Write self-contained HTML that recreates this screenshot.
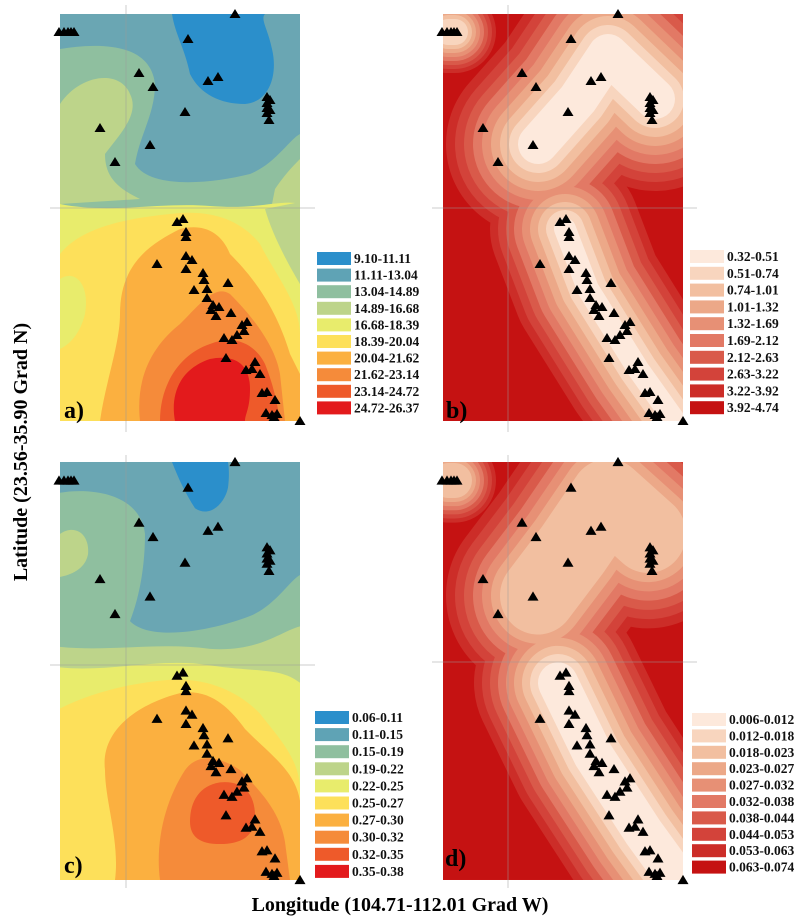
<!DOCTYPE html>
<html><head><meta charset="utf-8"><style>
html,body{margin:0;padding:0;background:#fff;}
svg{display:block;font-family:"Liberation Serif",serif;}
</style></head><body>
<svg id="fig" width="799" height="919" viewBox="0 0 799 919">
<defs>
<clipPath id="pc"><rect x="0" y="0" width="240" height="407"/></clipPath>
</defs>
<g id="pa" transform="translate(60,14)">
 <g clip-path="url(#pc)">
  <rect width="240" height="407" fill="#6aa6b3"/>
  <path fill="#8fbf9f" d="M0,35 C30,30 90,25 95,70 C95,100 80,120 75,150 C90,175 150,170 190,160 C215,150 230,125 240,120 L240,200 L0,200 Z"/>
  <path fill="#bdd48a" d="M0,90 C20,60 60,55 70,80 C80,100 60,120 45,140 C45,165 60,175 80,185 L0,190 Z"/>
  <path fill="#bdd48a" d="M215,175 C225,160 235,150 240,145 L240,200 L210,200Z"/>
  <path fill="#e8ec6c" d="M0,190 C50,200 100,188 150,192 C200,196 220,185 240,190 L240,407 L0,407 Z"/>
  <path fill="#bdd48a" d="M205,195 L240,188 L240,270 C228,250 212,220 205,195Z"/>
  <path fill="#fde05a" d="M0,240 C20,215 60,205 110,200 C150,195 180,205 200,230 C215,260 240,290 240,320 L240,407 L0,407 Z"/>
  <path fill="#e8ec6c" d="M0,265 C15,255 30,270 25,300 C20,320 10,330 0,335Z"/>
  <path fill="#fbb040" d="M60,300 C60,250 90,230 120,215 C140,210 160,215 170,240 C190,260 215,290 230,340 L240,360 L240,407 L40,407 C45,370 60,330 60,300Z"/>
  <path fill="#f58b3a" d="M80,407 C75,360 95,330 120,310 C140,290 155,270 170,280 C190,300 215,330 220,360 L225,407 Z"/>
  <path fill="#ee5a2a" d="M100,407 C100,370 120,340 150,330 C175,320 195,330 205,350 C215,375 218,395 220,407Z"/>
  <path fill="#e31a1c" d="M115,407 C110,380 120,355 150,345 C175,340 190,350 190,375 C190,395 185,400 185,407Z"/>
  <path fill="#2b8fcb" d="M112,0 C115,20 125,35 130,60 C140,80 160,90 185,90 C210,88 218,60 212,35 C208,15 200,5 205,0 Z"/>
 </g>
</g>
<g id="pcg" transform="translate(60,462) scale(1,1.027)">
 <g clip-path="url(#pc)">
  <rect width="240" height="407" fill="#6aa6b3"/>
  <path fill="#8fbf9f" d="M0,30 C30,25 80,30 85,70 C85,100 80,130 70,155 C90,175 150,165 190,150 C215,140 230,115 240,110 L240,200 L0,200 Z"/>
  <path fill="#bdd48a" d="M0,70 C15,60 30,70 28,90 C25,105 10,110 0,112Z"/>
  <path fill="#bdd48a" d="M0,180 C50,185 100,175 150,182 C200,185 220,165 240,160 L240,240 L0,240Z"/>
  <path fill="#e8ec6c" d="M0,200 C50,205 100,190 150,198 C200,205 220,200 240,215 L240,407 L0,407 Z"/>
  <path fill="#fde05a" d="M0,240 C30,225 70,215 110,212 C150,210 180,225 200,245 C220,270 240,290 240,320 L240,407 L0,407 Z"/>
  <path fill="#fbb040" d="M45,300 C40,260 80,235 120,225 C150,220 170,240 185,260 C210,285 235,300 240,330 L240,407 L55,407 C60,370 45,330 45,300Z"/>
  <path fill="#f58b3a" d="M100,407 C95,370 105,330 125,300 C140,280 165,290 180,300 C200,320 220,340 225,370 L230,407 Z"/>
  <path fill="#ee5a2a" d="M130,350 C130,330 140,315 160,312 C180,310 195,320 195,345 C195,365 180,372 160,372 C140,372 130,365 130,350Z"/>
  <path fill="#2b8fcb" d="M112,0 C118,15 125,30 135,45 C150,55 165,40 168,25 C170,10 168,0 168,0Z"/>
 </g>
</g>
<g id="pb" transform="translate(443,14)"><g clip-path="url(#pc)" id="pbc"><rect width="240" height="407" fill="#c51212"/></g></g>
<g id="pd" transform="translate(443,462) scale(1,1.027)"><g clip-path="url(#pc)" id="pdc"><rect width="240" height="407" fill="#c51212"/></g></g>

<g stroke="#999" stroke-opacity="0.5" stroke-width="1">
 <line x1="126" y1="5" x2="126" y2="432"/><line x1="50" y1="208" x2="315" y2="208"/>
 <line x1="508" y1="5" x2="508" y2="432"/><line x1="432" y1="208" x2="697" y2="208"/>
 <line x1="126" y1="455" x2="126" y2="888"/><line x1="50" y1="665" x2="315" y2="665"/>
 <line x1="508" y1="455" x2="508" y2="888"/><line x1="432" y1="662" x2="697" y2="662"/>
</g>
<g id="legends"></g>
<text x="64" y="418" font-size="24" font-weight="bold">a)</text>
<text x="446" y="418" font-size="24" font-weight="bold">b)</text>
<text x="64" y="873" font-size="24" font-weight="bold">c)</text>
<text x="445" y="866" font-size="24" font-weight="bold">d)</text>
<text transform="translate(27,452) rotate(-90)" text-anchor="middle" font-size="20" font-weight="bold">Latitude (23.56-35.90 Grad N)</text>
<text x="400" y="911" text-anchor="middle" font-size="20" font-weight="bold">Longitude (104.71-112.01 Grad W)</text>
</svg>
<script>
const stationX=[-1,4,8,11,14,128,175,79,93,148,158,125,207,207,207,207,210,210,209,40,90,55,117,123,126,126,97,126,132,126,143,144,168,134,147,147,153,159,151,156,171,182,187,184,177,164,172,166,195,186,192,200,202,207,215,206,212,217,214,240];
const stationY=[18,18,18,18,18,25,0,59,73,67,63,98,83,89,94,99,86,96,106,114,131,148,208,205,218,223,250,242,246,255,259,266,269,276,275,284,291,293,296,302,299,311,308,317,321,324,326,344,348,356,355,360,379,378,386,399,401,400,403,407];
const labelsA=["9.10-11.11","11.11-13.04","13.04-14.89","14.89-16.68","16.68-18.39","18.39-20.04","20.04-21.62","21.62-23.14","23.14-24.72","24.72-26.37"];
const labelsB=["0.32-0.51","0.51-0.74","0.74-1.01","1.01-1.32","1.32-1.69","1.69-2.12","2.12-2.63","2.63-3.22","3.22-3.92","3.92-4.74"];
const labelsC=["0.06-0.11","0.11-0.15","0.15-0.19","0.19-0.22","0.22-0.25","0.25-0.27","0.27-0.30","0.30-0.32","0.32-0.35","0.35-0.38"];
const labelsD=["0.006-0.012","0.012-0.018","0.018-0.023","0.023-0.027","0.027-0.032","0.032-0.038","0.038-0.044","0.044-0.053","0.053-0.063","0.063-0.074"];
const colorsA=["#2b8fcb","#5fa3b5","#8fbf9f","#bdd48a","#e8ec6c","#fde05a","#fbb040","#f58b3a","#ee5a2a","#e31a1c"];
const colorsB=["#fde9dc","#f8d5be","#f2bfa0","#eca888","#e79075","#e27965","#d95a4a","#d3433a","#cc2d28","#c51212"];
const NS="http://www.w3.org/2000/svg";
function mk(t,a){const e=document.createElementNS(NS,t);for(const k in a)e.setAttribute(k,a[k]);return e;}
// shapes: [points, w0, step, skip]
function layers(g,shapes,name){
  for(let i=8;i>=0;i--){
    shapes.forEach(s=>{
      if(i<s[3]) return;
      const d="M"+s[0].map(p=>p.join(",")).join(" L");
      const p=mk("path",{d:d,fill:"none",stroke:colorsB[i],"stroke-width":s[1]+i*s[2],"stroke-linejoin":"round","stroke-linecap":"round"});
      
      
      g.appendChild(p);
    });
  }
}
const gb=document.getElementById("pbc"), gd=document.getElementById("pdc");
layers(gb,[
 [[[212,85],[165,40],[135,85],[95,130]],40,18,0],
 [[[5,18],[12,18]],18,8,1],
 [[[122,215],[145,275],[195,355],[232,407]],22,16,0]
],"contour-b");
layers(gd,[
 [[[205,70],[165,35],[130,85],[95,130]],40,18,2],
 [[[5,18],[12,18]],18,8,2],
 [[[115,215],[150,285],[200,360],[235,407]],40,16,0]
],"contour-d");
function stations(gid){
  const g=document.getElementById(gid);
  for(let i=0;i<stationX.length;i++){
    const x=stationX[i],y=stationY[i];
    const t=mk("polygon",{points:`${x},${y-5} ${x-5.5},${y+4} ${x+5.5},${y+4}`,fill:"#000"});
    
    
    g.appendChild(t);
  }
}
["pa","pb","pcg","pd"].forEach(stations);
function legend(labels,colors,bx,by,sp,name){
  const g=document.getElementById("legends");
  labels.forEach((l,i)=>{
    const y=by+i*sp;
    const r=mk("rect",{x:bx,y:y-6,width:34,height:13,fill:colors[i]});
    
    
    g.appendChild(r);
    const t=mk("text",{x:bx+37,y:y+5,"font-size":"13.5","font-weight":"bold",fill:"#111"});
    t.textContent=l;
    
    
    g.appendChild(t);
  });
}
legend(labelsA,colorsA,317,258,16.6,"legend-a");
legend(labelsB,colorsB,690,256,16.8,"legend-b");
legend(labelsC,colorsA,315,717,17.1,"legend-c");
legend(labelsD,colorsB,692,719,16.4,"legend-d");
</script>
</body></html>
